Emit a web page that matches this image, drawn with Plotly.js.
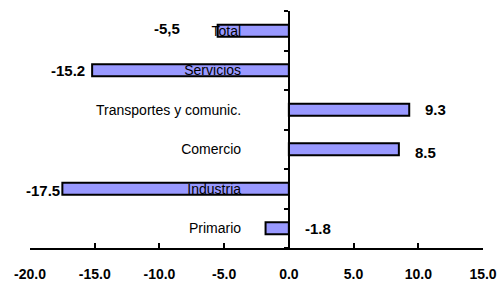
<!DOCTYPE html>
<html><head><meta charset="utf-8">
<script src="https://cdn.plot.ly/plotly-3.0.1.min.js"></script>
<style>html,body{margin:0;padding:0;background:#fff}#c{width:504px;height:282px}</style>
</head><body><div id="c"></div>
<script>
const categories = ["Primario", "Industria", "Comercio", "Transportes y comunic.", "Servicios", "Total"];
const values = [-1.8, -17.5, 8.5, 9.3, -15.2, -5.5];
const valueLabels = ["-1.8", "-17.5", "8.5", "9.3", "-15.2", "-5,5"];
const labelShift = [14, 0, 14, 14, -5, -36];
const labelYShift = [0, -2, -3, 0, 0, 2];
const xTicks = [-20, -15, -10, -5, 0, 5, 10, 15];
const xTickText = ["-20.0", "-15.0", "-10.0", "-5.0", "0.0", "5.0", "10.0", "15.0"];

const font = "Liberation Sans, Arial, sans-serif";
const annotations = categories.map((c, i) => {
  const neg = values[i] < 0 && i !== 0;
  return {
    x: i === 0 ? 0 : values[i],
    y: c, xref: "x", yref: "y",
    text: "<b>" + valueLabels[i] + "</b>",
    showarrow: false,
    xanchor: neg ? "right" : "left",
    xshift: labelShift[i],
    yshift: labelYShift[i],
    font: {family: font, size: 15, color: "#000"}
  };
});

Plotly.newPlot("c", [{
  type: "bar", orientation: "h", x: values, y: categories,
  marker: {color: "#9999FF", line: {color: "#000", width: 2}},
  hoverinfo: "none"
}], {
  width: 504, height: 282,
  margin: {l: 30, r: 21, t: 11, b: 34},
  paper_bgcolor: "#fff", plot_bgcolor: "#fff",
  bargap: 0.7,
  showlegend: false,
  xaxis: {
    range: [-20, 15], tickvals: xTicks, ticktext: xTickText,
    showgrid: false, zeroline: false, showline: true, linecolor: "#000", linewidth: 2,
    ticks: "inside", ticklen: 5, tickwidth: 2, tickcolor: "#000",
    ticklabelstandoff: 12,
    tickfont: {family: font, size: 14, color: "#000", weight: "bold"},
    fixedrange: true
  },
  yaxis: {
    type: "category", categoryorder: "array", categoryarray: categories,
    anchor: "free", position: 20 / 35,
    showgrid: false, zeroline: false, showline: true, linecolor: "#000", linewidth: 2,
    ticks: "outside", tickson: "boundaries", ticklen: 4, tickwidth: 2, tickcolor: "#000",
    ticklabelstandoff: 44,
    tickfont: {family: font, size: 14, color: "#000"},
    fixedrange: true
  },
  annotations: annotations
}, {displayModeBar: false, staticPlot: true});
</script></body></html>
